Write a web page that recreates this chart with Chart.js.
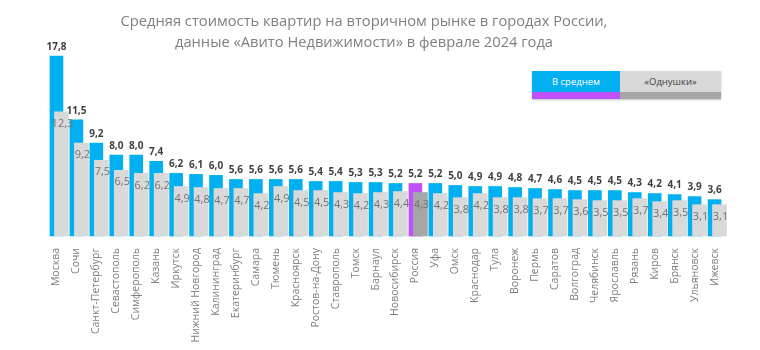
<!DOCTYPE html>
<html>
<head>
<meta charset="utf-8">
<script src="https://cdn.jsdelivr.net/npm/chart.js@4.4.1/dist/chart.umd.min.js"></script>
<style>
  body { margin: 0; background: #fff; font-family: 'Open Sans', sans-serif; }
  #wrap { position: relative; width: 760px; height: 350px; }
  #title { position: absolute; left: 0; width: 728px; top: 10px; text-align: center;
           color: #7f7f7f; font-size: 14.7px; line-height: 21px; }
  #legend { position: absolute; left: 532px; top: 71px; width: 189px; height: 28px;
            display: flex; box-shadow: 0 1px 2px rgba(0,0,0,0.25); font-size: 9.5px; }
  #legend div { display: flex; align-items: center; justify-content: center; box-sizing: border-box; }
  #legend .avg { width: 88px; background: #00b0f0; color: #fff; border-bottom: 7px solid #c050f8; }
  #legend .one { width: 101px; background: #d9d9d9; color: #404040; border-bottom: 7px solid #a6a6a6; }
</style>
</head>
<body>
<div id="wrap">
  <canvas id="chart" width="760" height="350"></canvas>
  <div id="title">Средняя стоимость квартир на вторичном рынке в городах России,<br>данные «Авито Недвижимости» в феврале 2024 года</div>
  <div id="legend"><div class="avg">В среднем</div><div class="one">«Однушки»</div></div>
</div>
<script>
// города по убыванию средней цены, млн руб.
var cities = ['Москва', 'Сочи', 'Санкт-Петербург', 'Севастополь', 'Симферополь', 'Казань', 'Иркутск',
  'Нижний Новгород', 'Калининград', 'Екатеринбург', 'Самара', 'Тюмень', 'Красноярск', 'Ростов-на-Дону',
  'Ставрополь', 'Томск', 'Барнаул', 'Новосибирск', 'Россия', 'Уфа', 'Омск', 'Краснодар', 'Тула',
  'Воронеж', 'Пермь', 'Саратов', 'Волгоград', 'Челябинск', 'Ярославль', 'Рязань', 'Киров', 'Брянск',
  'Ульяновск', 'Ижевск'];
var avgPrice = [17.8, 11.5, 9.2, 8.0, 8.0, 7.4, 6.2, 6.1, 6.0, 5.6, 5.6, 5.6, 5.6, 5.4, 5.4, 5.3, 5.3,
  5.2, 5.2, 5.2, 5.0, 4.9, 4.9, 4.8, 4.7, 4.6, 4.5, 4.5, 4.5, 4.3, 4.2, 4.1, 3.9, 3.6];
var oneRoomPrice = [12.3, 9.2, 7.5, 6.5, 6.2, 6.2, 4.9, 4.8, 4.7, 4.7, 4.2, 4.9, 4.5, 4.5, 4.3, 4.2, 4.3,
  4.4, 4.3, 4.2, 3.8, 4.2, 3.8, 3.8, 3.7, 3.7, 3.6, 3.5, 3.5, 3.7, 3.4, 3.5, 3.1, 3.1];

var greyShift = 0.25; // «однушки» чуть правее средней цены
var isRussia = cities.map(c => c === 'Россия');
var fmt = v => v.toFixed(1).replace('.', ',');

var valueLabels = {
  id: 'valueLabels',
  afterDatasetsDraw(chart) {
    var ctx = chart.ctx;
    ctx.save();
    ctx.textAlign = 'center';
    ctx.textBaseline = 'middle';
    chart.data.datasets.forEach((ds, di) => {
      var meta = chart.getDatasetMeta(di);
      meta.data.forEach((bar, i) => {
        var v = ds.data[i].y;
        if (ds.kind === 'avg') {
          ctx.font = 'bold 10px "Open Sans"';
          ctx.fillStyle = '#404040';
          ctx.fillText(fmt(v), bar.x, bar.y - 9);
        } else {
          ctx.font = '11px "Open Sans"';
          ctx.fillStyle = '#737373';
          ctx.fillText(fmt(v), bar.x + 1, bar.y + 12);
        }
      });
    });
    ctx.restore();
  }
};

new Chart('chart', {
  type: 'bar',
  data: {
    datasets: [
      {
        kind: 'one',
        label: '«Однушки»',
        data: oneRoomPrice.map((v, i) => ({ x: i + greyShift, y: v })),
        backgroundColor: isRussia.map(r => r ? '#a6a6a6' : '#d9d9d9'),
        barThickness: 14,
        grouped: false,
        clip: false,
        order: 0
      },
      {
        kind: 'avg',
        label: 'В среднем',
        data: avgPrice.map((v, i) => ({ x: i, y: v })),
        backgroundColor: isRussia.map(r => r ? '#c050f8' : '#00b0f0'),
        barThickness: 13,
        grouped: false,
        clip: false,
        order: 1
      }
    ]
  },
  options: {
    responsive: false,
    animation: false,
    layout: { padding: { left: 46.5, right: 35.5, top: 40, bottom: 0 } },
    plugins: { legend: { display: false }, tooltip: { enabled: false } },
    scales: {
      x: {
        type: 'linear',
        offset: false,
        min: -0.5,
        max: 33.5,
        grid: { display: false, offset: false },
        border: { display: false },
        afterBuildTicks: s => { s.ticks = cities.map((c, i) => ({ value: i })); },
        afterFit: s => { s.height = 114; },
        ticks: {
          autoSkip: false,
          minRotation: 90,
          maxRotation: 90,
          padding: 4,
          color: '#7f7f7f',
          font: { family: 'Open Sans', size: 10.5 },
          callback: v => cities[v]
        }
      },
      y: { display: false, min: 0, max: 19.4 }
    }
  },
  plugins: [valueLabels]
});
</script>
</body>
</html>
